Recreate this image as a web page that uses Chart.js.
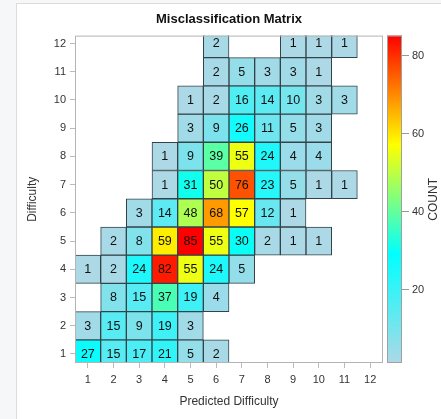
<!DOCTYPE html>
<html>
<head>
<meta charset="utf-8">
<script src="https://cdn.jsdelivr.net/npm/chart.js@4/dist/chart.umd.min.js"></script>
<style>
  html, body { margin: 0; padding: 0; background: #f5f7f9; }
  #box {
    position: absolute; left: 16px; top: 3px; width: 424px; height: 415px;
    background: #fff; border-left: 1px solid #dcdcdc; border-top: 1px solid #dcdcdc;
  }
  canvas { display: block; }
</style>
</head>
<body>
<div id="box"><canvas id="chart-matrix" width="424" height="415"></canvas></div>
<script>
// predicted difficulty (columns) and actual difficulty (rows)
const predicted = ['1', '2', '3', '4', '5', '6', '7', '8', '9', '10', '11', '12'];
const difficulty = [12, 11, 10, 9, 8, 7, 6, 5, 4, 3, 2, 1];
const yTicks = [1, 2, 3, 4, 5, 6, 7, 8, 9, 10, 11, 12];
const countTicks = [20, 40, 60, 80];

const d12 = [null, null, null, null, null, 2, null, null, 1, 1, 1, null];
const d11 = [null, null, null, null, null, 2, 5, 3, 3, 1, null, null];
const d10 = [null, null, null, null, 1, 2, 16, 14, 10, 3, 3, null];
const d9  = [null, null, null, null, 3, 9, 26, 11, 5, 3, null, null];
const d8  = [null, null, null, 1, 9, 39, 55, 24, 4, 4, null, null];
const d7  = [null, null, null, 1, 31, 50, 76, 23, 5, 1, 1, null];
const d6  = [null, null, 3, 14, 48, 68, 57, 12, 1, null, null, null];
const d5  = [null, 2, 8, 59, 85, 55, 30, 2, 1, 1, null, null];
const d4  = [1, 2, 24, 82, 55, 24, 5, null, null, null, null, null];
const d3  = [null, 8, 15, 37, 19, 4, null, null, null, null, null, null];
const d2  = [3, 15, 9, 19, 3, null, null, null, null, null, null, null];
const d1  = [27, 15, 17, 21, 5, 2, null, null, null, null, null, null];
const rows = [d12, d11, d10, d9, d8, d7, d6, d5, d4, d3, d2, d1];

const COUNT_MIN = 1;
const COUNT_MAX = 85;

// lightblue -> cyan -> yellow -> red
const RAMP = [[173, 216, 230], [0, 255, 255], [255, 255, 0], [255, 0, 0]];

function colorFor(v) {
  let t = (v - COUNT_MIN) / (COUNT_MAX - COUNT_MIN);
  t = Math.max(0, Math.min(1, t)) * (RAMP.length - 1);
  const i = Math.min(Math.floor(t), RAMP.length - 2);
  const f = t - i;
  const c = RAMP[i].map((a, k) => Math.round(a + (RAMP[i + 1][k] - a) * f));
  return `rgb(${c[0]},${c[1]},${c[2]})`;
}

const datasets = rows.map((row, r) => ({
  label: 'Difficulty ' + difficulty[r],
  data: row
    .map((v, j) => v == null ? null : { x: predicted[j], y: [difficulty[r] - 0.5, difficulty[r] + 0.5], v })
    .filter(p => p),
  backgroundColor: ctx => colorFor(ctx.raw.v),
  borderColor: '#33434a',
  borderWidth: 1,
  borderSkipped: false,
  barPercentage: 1,
  categoryPercentage: 1,
  grouped: false,
}));

const cellLabels = {
  id: 'cellLabels',
  afterDatasetsDraw(chart) {
    const { ctx, chartArea: a, scales } = chart;
    ctx.save();
    ctx.beginPath();
    ctx.rect(a.left, a.top, a.right - a.left, a.bottom - a.top);
    ctx.clip();
    ctx.font = '12.5px "Liberation Sans", Arial, sans-serif';
    ctx.fillStyle = '#111';
    ctx.textAlign = 'center';
    ctx.textBaseline = 'middle';
    rows.forEach((row, r) => {
      row.forEach((v, j) => {
        if (v == null) return;
        const x = scales.x.getPixelForValue(j);
        const y = scales.y.getPixelForValue(difficulty[r]);
        ctx.fillText(String(v), x, y + 0.5);
      });
    });
    ctx.restore();
    // plot frame
    ctx.save();
    ctx.strokeStyle = '#b4b4b4';
    ctx.lineWidth = 1;
    ctx.strokeRect(a.left + 0.5, a.top + 0.5, a.right - a.left - 1, a.bottom - a.top - 1);
    ctx.restore();
  },
};

const colorBar = {
  id: 'colorBar',
  afterDraw(chart) {
    const { ctx, chartArea: a, scales } = chart;
    const c = scales.c;
    const x0 = a.right + 4, w = 15;
    const yTop = c.getPixelForValue(COUNT_MAX), yBot = c.getPixelForValue(COUNT_MIN);
    const g = ctx.createLinearGradient(0, yBot, 0, yTop);
    RAMP.forEach((col, i) => g.addColorStop(i / (RAMP.length - 1), `rgb(${col.join(',')})`));
    ctx.save();
    ctx.fillStyle = g;
    ctx.fillRect(x0, yTop, w, yBot - yTop);
    ctx.strokeStyle = '#a0a0a0';
    ctx.lineWidth = 1;
    ctx.strokeRect(x0 + 0.5, yTop + 0.5, w - 1, yBot - yTop - 1);
    ctx.font = '11px "Liberation Sans", Arial, sans-serif';
    ctx.fillStyle = '#333';
    ctx.textBaseline = 'middle';
    ctx.textAlign = 'left';
    countTicks.forEach(v => {
      const y = Math.round(c.getPixelForValue(v)) + 0.5;
      ctx.beginPath();
      ctx.moveTo(x0 + w, y);
      ctx.lineTo(x0 + w + 7, y);
      ctx.strokeStyle = '#999';
      ctx.stroke();
      ctx.fillText(String(v), x0 + w + 10, y);
    });
    ctx.font = '12px "Liberation Sans", Arial, sans-serif';
    ctx.textAlign = 'center';
    ctx.translate(x0 + 47, (a.top + a.bottom) / 2);
    ctx.rotate(-Math.PI / 2);
    ctx.fillText('COUNT', 0, 0);
    ctx.restore();
  },
};

Chart.defaults.font.family = '"Liberation Sans", Arial, sans-serif';
Chart.defaults.color = '#333';

new Chart(document.getElementById('chart-matrix'), {
  type: 'bar',
  data: { labels: predicted, datasets },
  options: {
    responsive: false,
    animation: false,
    layout: { padding: 0 },
    plugins: {
      legend: { display: false },
      tooltip: { enabled: false },
      title: {
        display: true,
        text: 'Misclassification Matrix',
        color: '#111',
        font: { size: 13, weight: 'bold' },
        padding: { top: 8, bottom: 8 },
      },
    },
    scales: {
      x: {
        type: 'category',
        offset: true,
        grid: { display: true, drawOnChartArea: false, offset: false, color: '#bbb', tickLength: 5 },
        border: { display: false },
        ticks: { font: { size: 11 }, padding: 5, maxRotation: 0 },
        title: { display: true, text: 'Predicted Difficulty', font: { size: 12 }, padding: { top: 4, bottom: 10 } },
        afterFit: s => { s.height = 56; },
      },
      y: {
        type: 'linear',
        min: 0.68,
        max: 12.28,
        grid: { drawOnChartArea: false, color: '#bbb', tickLength: 5 },
        border: { display: false },
        ticks: { font: { size: 11 }, padding: 4 },
        afterBuildTicks: s => { s.ticks = yTicks.map(v => ({ value: v })); },
        title: { display: true, text: 'Difficulty', font: { size: 12 }, padding: { top: 8, bottom: 4 } },
        afterFit: s => { s.width = 58; },
      },
      // colour bar scale: space is reserved here, the bar itself is drawn by the plugin
      c: {
        type: 'linear',
        axis: 'y',
        position: 'right',
        min: COUNT_MIN,
        max: COUNT_MAX,
        grid: { display: false },
        border: { display: false },
        ticks: { display: false },
        afterFit: s => { s.width = 58; },
      },
    },
  },
  plugins: [cellLabels, colorBar],
});
</script>
</body>
</html>
